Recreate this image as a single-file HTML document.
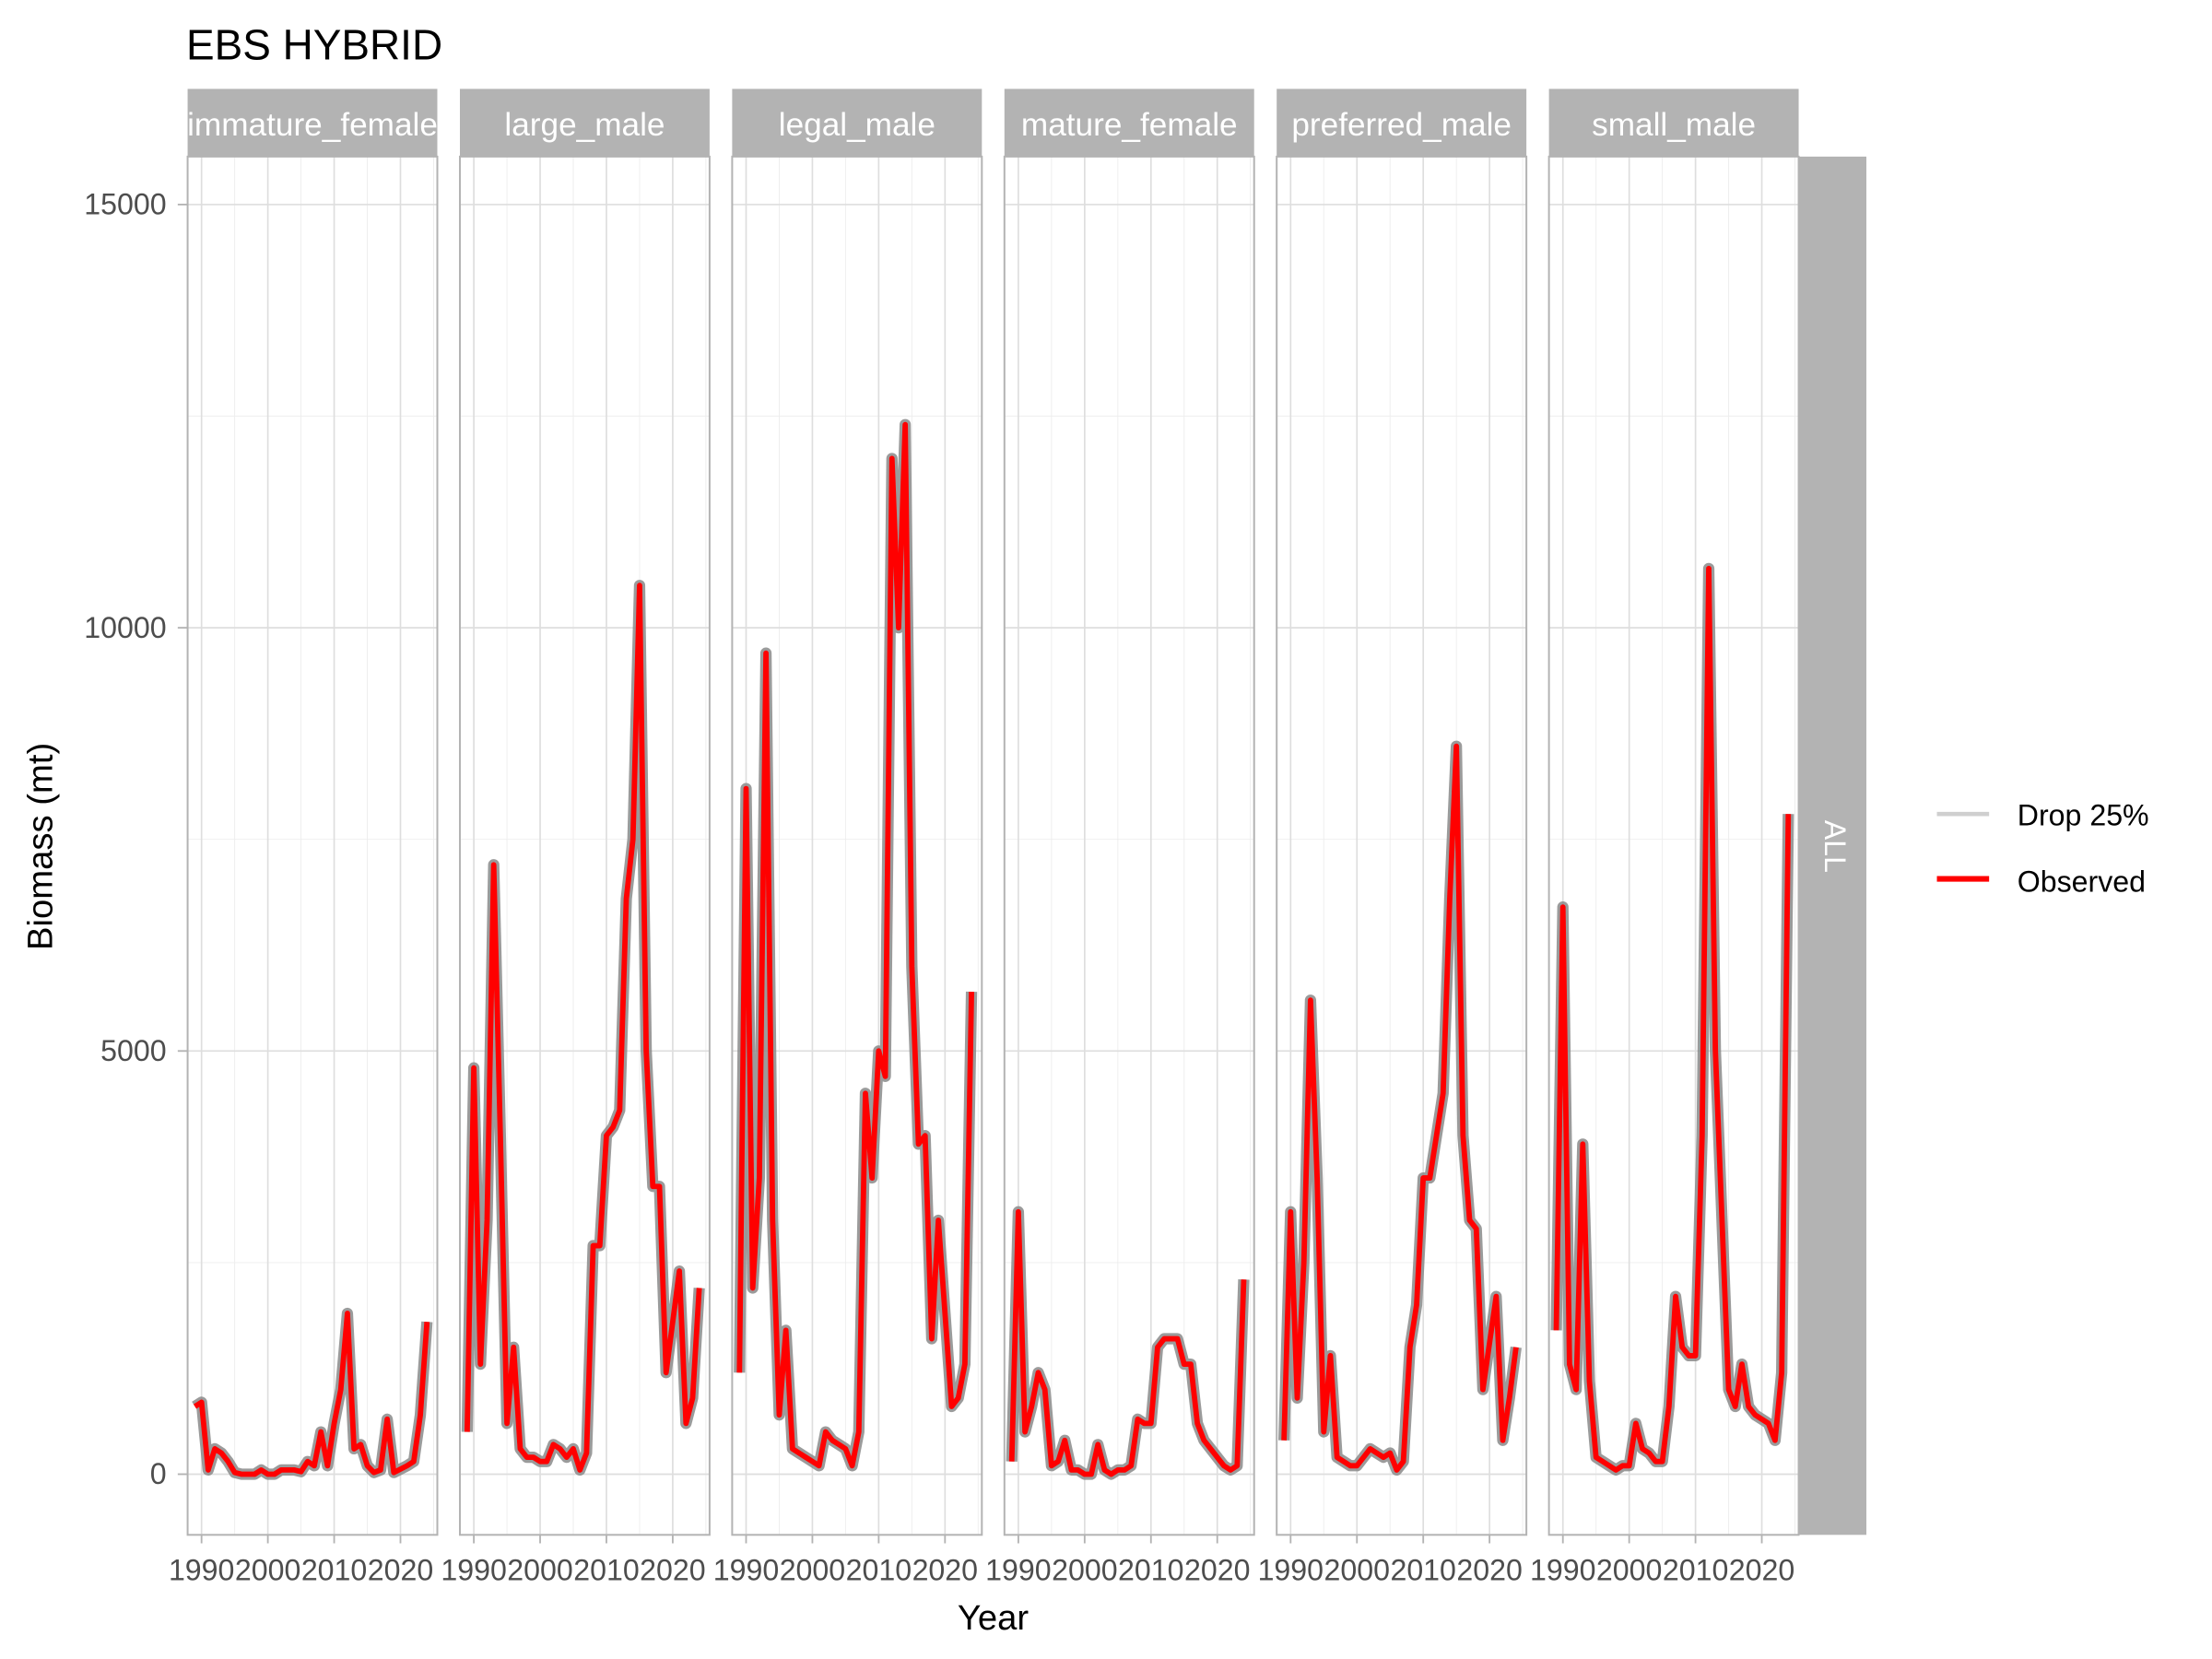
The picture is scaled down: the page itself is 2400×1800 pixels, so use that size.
<!DOCTYPE html>
<html><head><meta charset="utf-8"><style>
html,body{margin:0;padding:0;background:#fff}
svg{display:block;font-family:"Liberation Sans",sans-serif}
</style></head><body>
<svg id="chart" width="2400" height="1800" viewBox="0 0 1568 1176" xmlns="http://www.w3.org/2000/svg">
<text x="132" y="42" font-size="30" fill="#000">EBS HYBRID</text>
<text x="704" y="1155" font-size="25" text-anchor="middle" fill="#000">Year</text>
<text transform="translate(37,600) rotate(-90)" font-size="25" text-anchor="middle" fill="#000">Biomass (mt)</text>
<g id="panels"></g>
<g>
<rect x="1275" y="111" width="48" height="977" fill="#B3B3B3"/>
<text x="1299" y="600" font-size="21" fill="#fff" text-anchor="middle" transform="rotate(90 1299 600)" dominant-baseline="middle">ALL</text>
</g>
<g>
<g>
<line x1="1373" y1="577" x2="1410" y2="577" stroke="#cfcfcf" stroke-width="3"/>
<text x="1430" y="585" font-size="21" fill="#000">Drop 25%</text></g>
<g>
<line x1="1373" y1="623" x2="1410" y2="623" stroke="#ff0000" stroke-width="4"/>
<text x="1430" y="632" font-size="21" fill="#000">Observed</text></g>
</g>
</svg>
<script>
const years=[1989,1990,1991,1992,1993,1994,1995,1996,1997,1998,1999,2000,2001,2002,2003,2004,2005,2006,2007,2008,2009,2010,2011,2012,2013,2014,2015,2016,2017,2018,2019,2021,2022,2023,2024];
const panelNames=["immature_female","large_male","legal_male","mature_female","preferred_male","small_male"];
const immatureFemale=[800,850,50,300,250,150,20,0,0,0,50,0,0,50,50,50,30,150,100,500,100,600,1000,1900,300,350,100,20,50,650,20,100,150,700,1800];
const largeMale=[500,4800,1300,3000,7200,4000,600,1500,300,200,200,150,150,350,300,200,300,50,250,2700,2700,4000,4100,4300,6800,7500,10500,5000,3400,3400,1200,2400,600,900,2200];
const legalMale=[1200,8100,2200,3500,9700,3000,700,1700,300,250,200,150,100,500,400,350,300,100,500,4500,3500,5000,4700,12000,10000,12400,6000,3900,4000,1600,3000,800,900,1300,5700];
const matureFemale=[150,3100,500,800,1200,1000,100,150,400,50,50,0,0,350,50,0,50,50,100,650,600,600,1500,1600,1600,1600,1300,1300,600,400,300,100,50,100,2300];
const preferredMale=[400,3100,900,2500,5600,3500,500,1400,200,150,100,100,200,300,250,200,250,50,150,1500,2000,3500,3500,4000,4500,6800,8600,4000,3000,2900,1000,2100,400,900,1500];
const smallMale=[1700,6700,1300,1000,3900,1100,200,150,100,50,100,100,600,300,250,150,150,800,2100,1500,1400,1400,4000,10700,5000,3000,1000,800,1300,800,700,600,400,1200,7800];
const series=[immatureFemale,largeMale,legalMale,matureFemale,preferredMale,smallMale];
const yTicks=[0,5000,10000,15000];
const yMinor=[2500,7500,12500];
const xTicks=[1990,2000,2010,2020];
const xMinor=[1995,2005,2015,2025];

const NS="http://www.w3.org/2000/svg";
const panelLeft0=133,panelW=177,panelGap=16,pTop=111,pBottom=1088;
const yScale=v=>1045-v*300/5000;
const xScale=(i,yr)=>panelLeft0+i*(panelW+panelGap)+(yr-1987.9)*4.7;
function mk(tag,attrs,parent){const e=document.createElementNS(NS,tag);for(const k in attrs)e.setAttribute(k,attrs[k]);parent.appendChild(e);return e;}
const root=document.getElementById('panels');
yTicks.forEach(t=>{
  const tx=mk('text',{x:118,y:yScale(t)+7,'font-size':21,'text-anchor':'end',fill:'#4D4D4D'},root);
  tx.textContent=t;
  
  
  mk('line',{x1:126,x2:133,y1:yScale(t),y2:yScale(t),stroke:'#B3B3B3','stroke-width':1.2},root);
});
panelNames.forEach((name,i)=>{
  const L=panelLeft0+i*(panelW+panelGap),R=L+panelW;
  const g=mk('g',{},root);
  
  
  mk('rect',{x:L,y:pTop,width:panelW,height:pBottom-pTop,fill:'#fff'},g);
  yMinor.forEach(t=>mk('line',{x1:L,x2:R,y1:yScale(t),y2:yScale(t),stroke:'#EDEDED','stroke-width':0.6},g));
  xMinor.forEach(t=>{const x=xScale(i,t);if(x<R)mk('line',{x1:x,x2:x,y1:pTop,y2:pBottom,stroke:'#EDEDED','stroke-width':0.6},g);});
  yTicks.forEach(t=>mk('line',{x1:L,x2:R,y1:yScale(t),y2:yScale(t),stroke:'#DEDEDE','stroke-width':1.1},g));
  xTicks.forEach(t=>{const x=xScale(i,t);
    mk('line',{x1:x,x2:x,y1:pTop,y2:pBottom,stroke:'#DEDEDE','stroke-width':1.1},g);
    mk('line',{x1:x,x2:x,y1:pBottom,y2:pBottom+6,stroke:'#B3B3B3','stroke-width':1.2},g);
    const tl=mk('text',{x:x,y:pBottom+32,'font-size':21,'text-anchor':'middle',fill:'#4D4D4D'},g);
    tl.textContent=t;
    
    
  });
  const d=series[i].map((v,k)=>(k?'L':'M')+xScale(i,years[k]).toFixed(2)+','+yScale(v).toFixed(2)).join(' ');
  const band=mk('path',{d:d,fill:'none',stroke:'#8a8a8a','stroke-width':8,'stroke-linejoin':'round','stroke-opacity':0.85},g);
  
  
  const obs=mk('path',{d:d,fill:'none',stroke:'#ff0000','stroke-width':3.8,'stroke-linejoin':'round'},g);
  
  
  mk('rect',{x:L,y:pTop,width:panelW,height:pBottom-pTop,fill:'none',stroke:'#B3B3B3','stroke-width':1.3},g);
  const cp=mk('clipPath',{id:'clip'+i},g);
  mk('rect',{x:L,y:63,width:panelW,height:48},cp);
  const st=mk('g',{},g);
  
  
  mk('rect',{x:L,y:63,width:panelW,height:48,fill:'#B3B3B3'},st);
  const tt=mk('text',{x:(L+R)/2,y:96,'font-size':23,'text-anchor':'middle',fill:'#fff','clip-path':'url(#clip'+i+')'},st);
  tt.textContent=name;
});
</script>
</body></html>
